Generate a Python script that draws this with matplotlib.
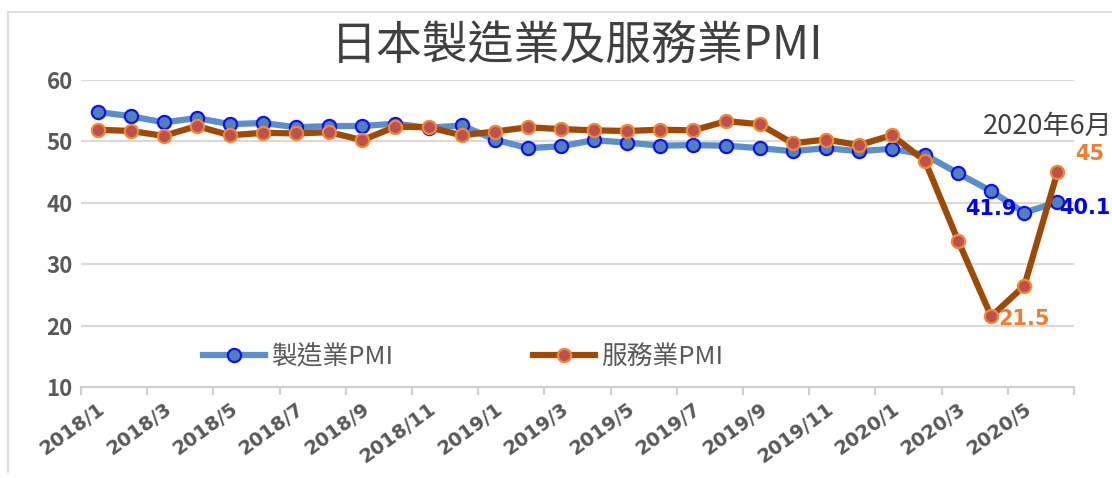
import matplotlib
matplotlib.use("Agg")
import matplotlib.pyplot as plt
from matplotlib.lines import Line2D

plt.rcParams['font.family'] = ['Noto Sans CJK TC', 'DejaVu Sans']

months = [f"{y}/{m}" for y in (2018, 2019) for m in range(1, 13)] + [f"2020/{m}" for m in range(1, 7)]
manufacturing = [54.8, 54.1, 53.1, 53.8, 52.8, 53.0, 52.3, 52.5, 52.5, 52.9, 52.2, 52.6,
                 50.3, 48.9, 49.2, 50.2, 49.8, 49.3, 49.4, 49.3, 48.9, 48.4, 48.9, 48.4,
                 48.8, 47.8, 44.8, 41.9, 38.4, 40.1]
services = [51.9, 51.7, 50.9, 52.5, 51.0, 51.4, 51.3, 51.5, 50.2, 52.4, 52.3, 51.0,
            51.6, 52.3, 52.0, 51.8, 51.7, 51.9, 51.8, 53.3, 52.8, 49.7, 50.3, 49.4,
            51.0, 46.8, 33.8, 21.5, 26.5, 45.0]
title = "日本製造業及服務業PMI"
series_names = ["製造業PMI", "服務業PMI"]
yticks = [10, 20, 30, 40, 50, 60]

W, H = 1112, 478
fig = plt.figure(figsize=(W / 100, H / 100), dpi=100)
fig.patch.set_facecolor("white")

# outer frame lines
fig.add_artist(Line2D([8 / W, 1.0], [1 - 12 / H, 1 - 12 / H], color="#D9D9D9", lw=1.2, transform=fig.transFigure))
fig.add_artist(Line2D([8 / W, 8 / W], [1 - 12 / H, 1 - 472 / H], color="#D9D9D9", lw=1.2, transform=fig.transFigure))

left, right, top, bottom = 81, 1074, 80, 387
ax = fig.add_axes([left / W, 1 - bottom / H, (right - left) / W, (bottom - top) / H])

x = list(range(len(months)))
l1, = ax.plot(x, manufacturing, color="#5B8FC9", lw=4.5, marker="o", markersize=9.5,
              markerfacecolor="#4F81BD", markeredgecolor="#1010F0", markeredgewidth=1.6,
              solid_joinstyle="round", zorder=3, label=series_names[0])
l2, = ax.plot(x, services, color="#9E4A06", lw=4.5, marker="o", markersize=9.5,
              markerfacecolor="#C0504D", markeredgecolor="#F08A30", markeredgewidth=1.6,
              solid_joinstyle="round", zorder=4, label=series_names[1])

ax.set_xlim(-0.5, len(months) - 0.5)
ax.set_ylim(yticks[0], yticks[-1])
ax.set_yticks(yticks)
ax.yaxis.grid(True, color="#D9D9D9", lw=1.5)
ax.set_axisbelow(True)
for s in ("top", "right", "left"):
    ax.spines[s].set_visible(False)
ax.spines["bottom"].set_color("#D0D0D0")
ax.spines["bottom"].set_linewidth(1.5)
ax.tick_params(axis="y", length=0, pad=6, labelsize=16, labelcolor="#595959")
for lab in ax.get_yticklabels():
    lab.set_fontweight("bold")

# category boundary ticks every two months, labels at category centres
ax.set_xticks([i - 0.5 for i in range(0, len(months) + 1, 2)])
ax.set_xticklabels([])
ax.tick_params(axis="x", which="major", length=6, color="#D0D0D0", width=1.5, direction="out")
ax.set_xticks(x[::2], minor=True)
ax.set_xticklabels(months[::2], minor=True, rotation=36, ha="right", va="top",
                   rotation_mode="anchor", fontsize=14, fontweight="bold", color="#595959",
                   family=["DejaVu Sans"])
ax.tick_params(axis="x", which="minor", length=0, pad=9)

fig.text(577 / W, 1 - 46 / H, title, ha="center", va="center", fontsize=33, color="#404040")

# legend entries placed individually
for handle, name, xpos in ((l1, series_names[0], 203), (l2, series_names[1], 533)):
    leg = fig.legend([handle], [name], loc="center left", bbox_to_anchor=(xpos / W, 1 - 357 / H),
                     frameon=False, fontsize=18.5, handlelength=2.4, borderaxespad=0,
                     borderpad=0, handletextpad=0.25)
    for t in leg.get_texts():
        t.set_color("#595959")

# data labels
blue, orange = "#0000F0", "#ED7D31"
i4, i6 = months.index("2020/4"), months.index("2020/6")
lab_kw = dict(textcoords="offset points", va="center", fontsize=15, fontweight="bold",
              family=["DejaVu Sans"], zorder=6, annotation_clip=False)
ax.annotate(f"{manufacturing[i4]:.1f}", (i4, manufacturing[i4]), xytext=(0, -13), ha="center", color=blue, **lab_kw)
ax.annotate(f"{manufacturing[i6]:.1f}", (i6, manufacturing[i6]), xytext=(1, -4), ha="left", color=blue, **lab_kw)
ax.annotate(f"{services[i4]:.1f}", (i4, services[i4]), xytext=(5, -2), ha="left", color=orange, **lab_kw)
ax.annotate(f"{services[i6]:g}", (i6, services[i6]), xytext=(13, 13), ha="left", color=orange, **lab_kw)
ax.annotate("2020年6月", (i6, services[i6]), xytext=(-54, 33), textcoords="offset points",
            ha="left", va="center", color="#404040", fontsize=19.5, annotation_clip=False, zorder=6)

fig.savefig("out.png", dpi=100)
